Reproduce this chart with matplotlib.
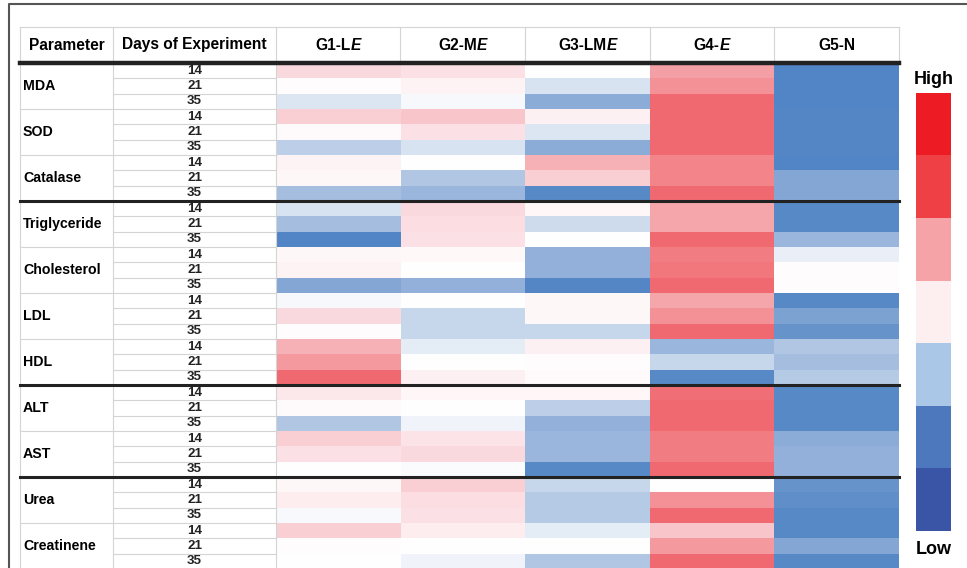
import numpy as np
import matplotlib
matplotlib.use("Agg")
import matplotlib.pyplot as plt
from matplotlib.colors import LinearSegmentedColormap, ListedColormap

parameters = ["MDA", "SOD", "Catalase", "Triglyceride", "Cholesterol",
              "LDL", "HDL", "ALT", "AST", "Urea", "Creatinene"]
days = ["14", "21", "35"]
groups = [("G1-L", "E"), ("G2-M", "E"), ("G3-LM", "E"), ("G4-", "E"), ("G5-N", "")]

# relative level of each cell, -1 = low (blue), +1 = high (red)
g1 = [0.25, 0.02, -0.2, 0.3, 0.03, -0.35, 0.08, 0.05, -0.45,
      -0.22, -0.45, -1.0, 0.05, 0.08, -0.65, -0.05, 0.25, 0.02, 0.45, 0.6, 0.95,
      0.15, 0.03, -0.4, 0.3, 0.2, 0.0,
      0.05, 0.12, -0.04, 0.3, 0.02, 0.0]
g2 = [0.2, 0.08, -0.05, 0.35, 0.2, -0.22, 0.0, -0.4, -0.5,
      0.25, 0.22, 0.2, 0.04, 0.0, -0.55, 0.0, -0.3, -0.3, -0.15, 0.0, 0.1,
      0.06, 0.0, -0.08, 0.18, 0.25, -0.03,
      0.3, 0.22, 0.2, 0.12, 0.0, -0.08]
g3 = [0.0, -0.22, -0.6, 0.1, -0.2, -0.6, 0.45, 0.3, -0.95,
      0.06, -0.28, 0.0, -0.55, -0.55, -0.98, 0.05, 0.05, -0.3, 0.1, 0.02, 0.03,
      0.06, -0.35, -0.55, -0.5, -0.5, -0.95,
      -0.3, -0.38, -0.38, -0.15, 0.0, -0.4]
g4 = [0.55, 0.65, 0.95, 0.95, 0.95, 0.95, 0.75, 0.75, 0.95,
      0.5, 0.5, 0.95, 0.8, 0.85, 0.95, 0.5, 0.65, 0.95, -0.5, -0.3, -0.95,
      0.9, 0.95, 0.95, 0.8, 0.8, 0.95,
      0.0, 0.65, 0.95, 0.35, 0.6, 0.95]
g5 = [-1.0, -1.0, -1.0, -0.98, -0.98, -0.98, -1.0, -0.65, -0.65,
      -0.95, -0.95, -0.5, -0.12, 0.02, 0.02, -0.95, -0.7, -0.85, -0.4, -0.45, -0.38,
      -0.95, -0.95, -0.95, -0.6, -0.55, -0.55,
      -0.85, -0.9, -0.95, -0.95, -0.65, -0.95]

legend_colors = ["#3A55A5", "#4D78BE", "#ABC7E7", "#FDEEF0",
                 "#F5A3A6", "#EE4045", "#ED1C24"]

cell_cmap = LinearSegmentedColormap.from_list(
    "cells",
    [(0.0, "#5285C5"), (0.25, "#9AB6DC"), (0.375, "#D4E0F0"), (0.5, "#FFFFFF"),
     (0.625, "#FBDADF"), (0.75, "#F5A7AC"), (1.0, "#F0636A")])

plt.rcParams["font.family"] = ["Liberation Sans", "DejaVu Sans"]

fig = plt.figure(figsize=(9.67, 5.68), dpi=100)
ax = fig.add_axes([0, 0, 1, 1])
ax.set_xlim(0, 967)
ax.set_ylim(568, 0)
ax.axis("off")

x_cols = [20, 113, 276, 400, 525, 650, 774, 899]
y_head = 27
y_top = 63
y_bot = 569
n_rows = len(parameters) * len(days)
row_h = (y_bot - y_top) / n_rows

data = np.array([g1, g2, g3, g4, g5]).T
ax.imshow(data, cmap=cell_cmap, vmin=-1, vmax=1, aspect="auto",
          interpolation="nearest", extent=(x_cols[2], x_cols[-1], y_bot, y_top), zorder=1)

# outer frame
ax.plot([9, 9, 967], [600, 4, 4], color="#555555", lw=1.5, zorder=5)

grey = "#d4d4d4"
# header cell lines
ax.plot([x_cols[0], x_cols[-1]], [y_head, y_head], color=grey, lw=0.8)
for x in x_cols:
    ax.plot([x, x], [y_head, y_top], color=grey, lw=0.8)
for x in x_cols[:3]:
    ax.plot([x, x], [y_top, y_bot], color=grey, lw=0.8)

# row lines in label columns
for i in range(1, n_rows):
    y = y_top + i * row_h
    ax.plot([x_cols[1], x_cols[2]], [y, y], color=grey, lw=0.8, zorder=2)
    if i % 3 == 0:
        ax.plot([x_cols[0], x_cols[1]], [y, y], color=grey, lw=0.8, zorder=2)

# thick separators
ax.plot([x_cols[0], x_cols[-1]], [y_top - 0.5, y_top - 0.5], color="#222222", lw=3.2, zorder=4)
for i in [9, 21, 27]:
    y = y_top + i * row_h
    ax.plot([x_cols[0], x_cols[-1]], [y, y], color="#222222", lw=2.2, zorder=4)

# header text
y_ht = (y_head + y_top) / 2
ax.text((x_cols[0] + x_cols[1]) / 2, y_ht, "Parameter", ha="center", va="center",
        fontsize=11.2, fontweight="bold")
ax.text((x_cols[1] + x_cols[2]) / 2, y_ht, "Days of Experiment", ha="center", va="center",
        fontsize=11.2, fontweight="bold")

fig.canvas.draw()
renderer = fig.canvas.get_renderer()
inv = ax.transData.inverted()
for j, (plain, ital) in enumerate(groups):
    xc = (x_cols[3 + j - 1] + x_cols[3 + j]) / 2
    t1 = ax.text(0, y_ht, plain, ha="left", va="center", fontsize=11.2, fontweight="bold")
    w1 = t1.get_window_extent(renderer).width
    w2 = 0
    t2 = None
    if ital:
        t2 = ax.text(0, y_ht, ital, ha="left", va="center", fontsize=11.2,
                     fontweight="bold", fontstyle="italic")
        w2 = t2.get_window_extent(renderer).width
    x0 = xc - (w1 + w2) / 2
    t1.set_x(x0)
    if t2 is not None:
        t2.set_x(x0 + w1)

# row labels
for p, name in enumerate(parameters):
    y_mid = y_top + (p * 3 + 1.5) * row_h
    ax.text(23, y_mid, name, ha="left", va="center", fontsize=10.2, fontweight="bold")
    for d, day in enumerate(days):
        y = y_top + (p * 3 + d + 0.5) * row_h
        ax.text((x_cols[1] + x_cols[2]) / 2, y, day, ha="center", va="center",
                fontsize=9.6, fontweight="bold", color="#222222")

# legend bar
levels = np.arange(len(legend_colors))[::-1].reshape(-1, 1)
ax.imshow(levels, cmap=ListedColormap(legend_colors), aspect="auto",
          interpolation="nearest", extent=(916, 951, 531, 93), zorder=1)
ax.text(933.5, 79, "High", ha="center", va="center", fontsize=13, fontweight="bold")
ax.text(933.5, 549, "Low", ha="center", va="center", fontsize=13, fontweight="bold")

ax.set_xlim(0, 967)
ax.set_ylim(568, 0)
fig.savefig("out.png", dpi=100)
